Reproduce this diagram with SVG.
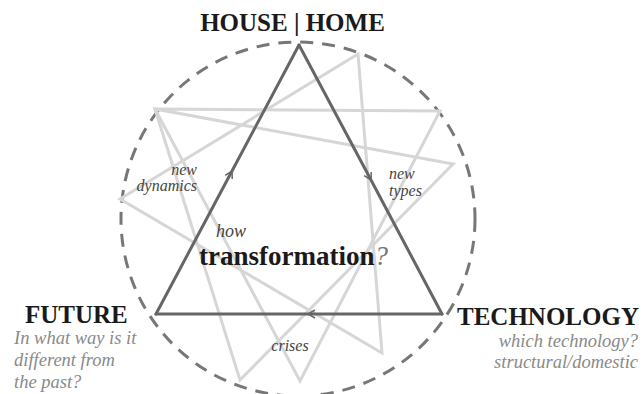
<svg xmlns="http://www.w3.org/2000/svg" width="644" height="394" viewBox="0 0 644 394">
  <style>
    .ghost { fill: none; stroke: #d6d6d6; stroke-width: 3; stroke-linejoin: miter; }
    .ring { fill: none; stroke: #777; stroke-width: 3; stroke-dasharray: 13 9; }
    .edge { fill: none; stroke: #666; stroke-width: 3; stroke-linecap: round; stroke-linejoin: round; }
    .head { font-family: "Liberation Serif", "Times New Roman", serif; font-weight: bold; font-size: 25px; fill: #1a1a1a; }
    .sub { font-family: "Liberation Serif", "Times New Roman", serif; font-style: italic; font-size: 18.5px; fill: #8a8a8a; }
    .lbl { font-family: "Liberation Serif", "Times New Roman", serif; font-style: italic; font-size: 16px; fill: #444; }
  </style>
  <defs>
    <marker id="chev" viewBox="0 0 10 10" refX="8" refY="5" markerWidth="10" markerHeight="10" markerUnits="userSpaceOnUse" orient="auto">
      <path d="M1,1 L8,5 L1,9" fill="none" stroke="#666" stroke-width="1.5"/>
    </marker>
  </defs>

  <g id="background">
    <circle class="ring" cx="298" cy="219" r="177"/>
    <polygon class="ghost" points="358,54 120,199 382,353"/>
    <polygon class="ghost" points="155,109 440,111 300,381"/>
    <polygon class="ghost" points="155,109 240,380 453,164"/>
  </g>

  <g id="connectors">
    <path class="edge" d="M156,314 L232,171 L299,45" marker-mid="url(#chev)"/>
    <path class="edge" d="M299,45 L371,180 L442,314" marker-mid="url(#chev)"/>
    <path class="edge" d="M442,314 L308,314 L156,314" marker-mid="url(#chev)"/>
  </g>

  <g id="node-house">
    <text class="head" x="292.5" y="31" text-anchor="middle">HOUSE | HOME</text>
  </g>

  <g id="node-future">
    <text class="head" x="25" y="323">FUTURE</text>
    <text class="sub" x="14" y="344">In what way is it</text>
    <text class="sub" x="14" y="366">different from</text>
    <text class="sub" x="14" y="388">the past?</text>
  </g>

  <g id="node-technology">
    <text class="head" x="457" y="325">TECHNOLOGY</text>
    <text class="sub" x="638" y="347" text-anchor="end">which technology?</text>
    <text class="sub" x="638" y="368" text-anchor="end">structural/domestic</text>
  </g>

  <g id="node-center">
    <text class="lbl" x="216" y="237" style="font-size:18px">how</text>
    <text x="199" y="265" style="font-family:'Liberation Serif','Times New Roman',serif;font-size:27px;font-weight:bold;fill:#1a1a1a">transformation<tspan style="font-weight:normal;font-style:italic;fill:#777">?</tspan></text>
  </g>

  <g id="edge-labels">
    <text class="lbl" x="197" y="175" text-anchor="end">new</text>
    <text class="lbl" x="197" y="191" text-anchor="end">dynamics</text>
    <text class="lbl" x="389" y="179">new</text>
    <text class="lbl" x="389" y="196">types</text>
    <text class="lbl" x="290" y="351" text-anchor="middle">crises</text>
  </g>
</svg>
